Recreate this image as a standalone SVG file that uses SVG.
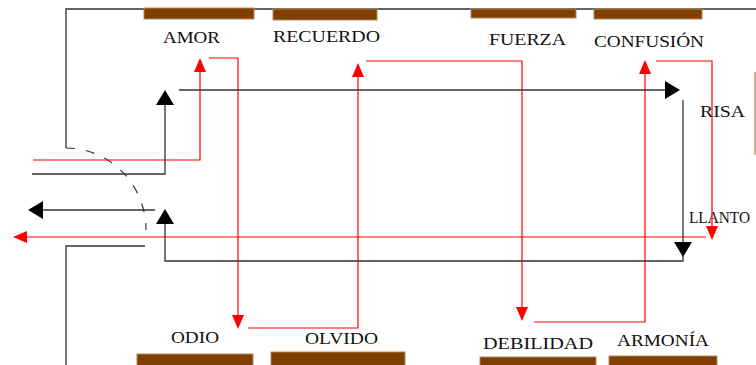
<svg xmlns="http://www.w3.org/2000/svg" width="756" height="365" viewBox="0 0 756 365">
<style>
.bar{fill:#7f3f00;stroke:#b08a60;stroke-width:1}
.frame{fill:none;stroke:#333;stroke-width:1.3}
.blk{fill:none;stroke:#333;stroke-width:1.3;marker-end:url(#ab)}
.red{fill:none;stroke:#ff0000;stroke-width:1.2;marker-end:url(#ar)}
.lbl{font-family:"Liberation Serif","DejaVu Serif",serif;font-size:17px;fill:#111}
</style>
<defs>
<marker id="ab" markerUnits="userSpaceOnUse" viewBox="0 0 15 18" refX="0" refY="9" markerWidth="15" markerHeight="18" orient="auto"><path d="M0,0 L15,9 L0,18 z" fill="#000"/></marker>
<marker id="ar" markerUnits="userSpaceOnUse" viewBox="0 0 14 12" refX="0" refY="6" markerWidth="14" markerHeight="12" orient="auto"><path d="M0,0 L14,6 L0,12 z" fill="#ff0000"/></marker>
</defs>
<rect width="756" height="365" fill="#fff"/>
<g id="frame">
<path class="frame" d="M66,148 V9 H756"/>
<path class="frame" d="M145,246 H66 V365"/>
<path d="M66,148 A80,82 0 0 1 146,230" fill="none" stroke="#333" stroke-width="1.2" stroke-dasharray="9,11"/>
<path d="M755,72 V155" stroke="#b89a78" stroke-width="1.5"/>
</g>
<g id="amor"><rect class="bar" x="144" y="8" width="110" height="11"/><text class="lbl" x="163" y="43" textLength="57" lengthAdjust="spacingAndGlyphs">AMOR</text></g>
<g id="recuerdo"><rect class="bar" x="273" y="9" width="104" height="11"/><text class="lbl" x="273" y="42" textLength="107" lengthAdjust="spacingAndGlyphs">RECUERDO</text></g>
<g id="fuerza"><rect class="bar" x="471" y="9" width="105" height="9"/><text class="lbl" x="489" y="45" textLength="77" lengthAdjust="spacingAndGlyphs">FUERZA</text></g>
<g id="confusion"><rect class="bar" x="594" y="9" width="108" height="10"/><text class="lbl" x="594" y="47" textLength="110" lengthAdjust="spacingAndGlyphs">CONFUSIÓN</text></g>
<g id="risa"><text class="lbl" x="700" y="117" textLength="45" lengthAdjust="spacingAndGlyphs">RISA</text></g>
<g id="llanto"><text class="lbl" x="689" y="223" font-size="16" textLength="61" lengthAdjust="spacingAndGlyphs">LLANTO</text></g>
<g id="odio"><rect class="bar" x="137" y="354" width="116" height="12"/><text class="lbl" x="171" y="343" textLength="48" lengthAdjust="spacingAndGlyphs">ODIO</text></g>
<g id="olvido"><rect class="bar" x="271" y="352" width="134" height="14"/><text class="lbl" x="305" y="344" textLength="73" lengthAdjust="spacingAndGlyphs">OLVIDO</text></g>
<g id="debilidad"><rect class="bar" x="480" y="357" width="116" height="9"/><text class="lbl" x="483" y="349" textLength="110" lengthAdjust="spacingAndGlyphs">DEBILIDAD</text></g>
<g id="armonia"><rect class="bar" x="609" y="356" width="108" height="10"/><text class="lbl" x="617" y="346" textLength="92" lengthAdjust="spacingAndGlyphs">ARMONÍA</text></g>
<g id="connectors">
<path class="red" d="M33,160 H200 V72"/>
<path class="red" d="M209,58 H238 V315"/>
<path class="red" d="M248,328 H358 V77"/>
<path class="red" d="M366,61 H522 V307"/>
<path class="red" d="M534,322 H645 V74"/>
<path class="red" d="M656,61 H712 V226"/>
<path class="red" d="M706,237 H27"/>
<path class="blk" d="M32,174 H165 V105"/>
<path class="blk" d="M179,90 H665"/>
<path class="blk" d="M683,100 V242"/>
<path class="blk" d="M683,255 V261 H165 V224"/>
<path class="blk" d="M155,210 H43"/>
</g>
</svg>
